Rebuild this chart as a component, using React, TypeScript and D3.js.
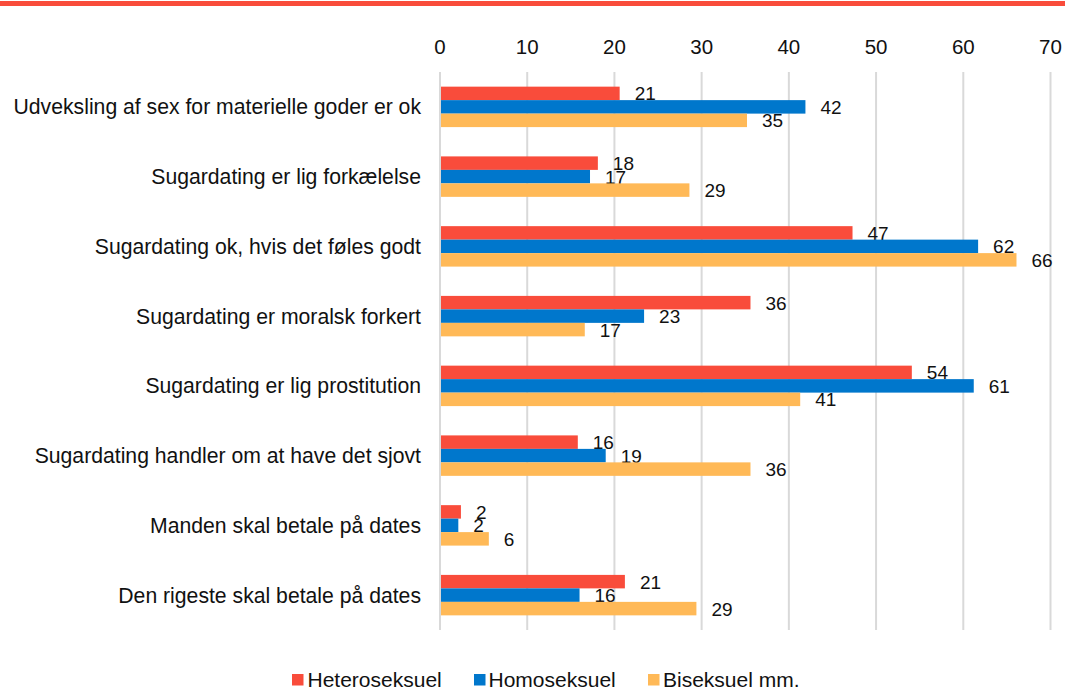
import React from "react";
import * as d3 from "d3";

const categories = [
  "Udveksling af sex for materielle goder er ok",
  "Sugardating er lig forkælelse",
  "Sugardating ok, hvis det føles godt",
  "Sugardating er moralsk forkert",
  "Sugardating er lig prostitution",
  "Sugardating handler om at have det sjovt",
  "Manden skal betale på dates",
  "Den rigeste skal betale på dates",
];
const seriesNames = ["Heteroseksuel", "Homoseksuel", "Biseksuel mm."];
const hetero = [20.6, 18.1, 47.3, 35.6, 54.1, 15.8, 2.4, 21.2];
const homo = [41.9, 17.2, 61.7, 23.4, 61.2, 19.0, 2.1, 16.0];
const bi = [35.2, 28.6, 66.1, 16.6, 41.3, 35.6, 5.6, 29.4];
const tickValues = [0, 10, 20, 30, 40, 50, 60, 70];
const colors = ["#F94C3B", "#0077CC", "#FFB957"];

const W = 1065;
const H = 690;
const FONT = "'Liberation Sans', Arial, sans-serif";

export default function App() {
  const series = [hetero, homo, bi];
  const x = d3.scaleLinear().domain([0, 70]).range([440, 1050.5]);
  const y = d3
    .scaleBand<string>()
    .domain(categories)
    .range([72, 630])
    .paddingInner(0.42)
    .paddingOuter(0.21);
  const inner = d3
    .scaleBand<string>()
    .domain(seriesNames)
    .range([0, y.bandwidth()]);

  const legendItems = [
    { sq: 292, tx: 307.5 },
    { sq: 474, tx: 488.5 },
    { sq: 648, tx: 663 },
  ];

  return (
    <svg
      width={W}
      height={H}
      style={{ position: "absolute", left: 0, top: 0, background: "#fff" }}
      fontFamily={FONT}
    >
      <rect x={0} y={0} width={W} height={H} fill="#fff" />
      <rect x={0} y={1} width={W} height={5} fill={colors[0]} />
      {/* gridlines */}
      {tickValues.map((t) => (
        <line
          key={"g" + t}
          x1={x(t)}
          x2={x(t)}
          y1={72}
          y2={630}
          stroke="#d9d9d9"
          strokeWidth={2}
        />
      ))}
      {/* tick labels */}
      {tickValues.map((t) => (
        <text
          key={"t" + t}
          x={x(t)}
          y={54}
          textAnchor="middle"
          fontSize={20.5}
          fill="#111"
        >
          {t}
        </text>
      ))}
      {/* category labels */}
      {categories.map((c) => (
        <text
          key={"c" + c}
          x={421}
          y={(y(c) as number) + y.bandwidth() / 2 + 7.5}
          textAnchor="end"
          fontSize={21.2}
          fill="#111"
        >
          {c}
        </text>
      ))}
      {/* bars */}
      {series.map((vals, si) =>
        vals.map((v, ci) => {
          const by = (y(categories[ci]) as number) + (inner(seriesNames[si]) as number);
          return (
            <g key={"b" + si + "-" + ci}>
              <rect
                x={x(0) + 1}
                y={by}
                width={x(v) - x(0) - 1}
                height={inner.bandwidth()}
                fill={colors[si]}
              />
              <text
                x={x(v) + 15}
                y={by + inner.bandwidth() / 2 + 7}
                fontSize={19}
                fill="#111"
              >
                {Math.round(v)}
              </text>
            </g>
          );
        })
      )}
      {/* legend */}
      {seriesNames.map((n, i) => (
        <g key={"l" + n}>
          <rect
            x={legendItems[i].sq}
            y={674}
            width={11.5}
            height={11.5}
            fill={colors[i]}
          />
          <text x={legendItems[i].tx} y={686.5} fontSize={21} fill="#111">
            {n}
          </text>
        </g>
      ))}
    </svg>
  );
}
